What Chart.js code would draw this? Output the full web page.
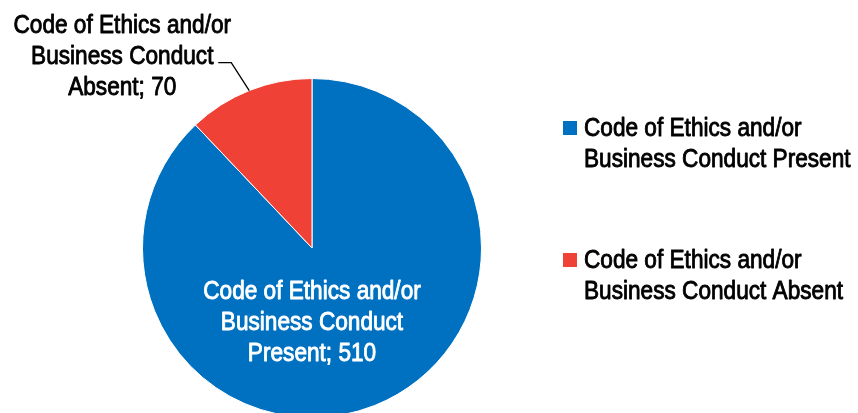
<!DOCTYPE html>
<html>
<head>
<meta charset="utf-8">
<script src="https://cdn.jsdelivr.net/npm/chart.js@4.4.1/dist/chart.umd.min.js"></script>
<style>
html,body{margin:0;padding:0;background:#fff;overflow:hidden;width:858px;height:413px;}
#wrap{position:absolute;left:0;top:0;width:858px;height:500px;}
</style>
</head>
<body>
<div id="wrap"><canvas id="c" width="858" height="500"></canvas></div>
<script>
// ---- data ----
const categories = ['Code of Ethics and/or Business Conduct Present', 'Code of Ethics and/or Business Conduct Absent'];
const values = [510, 70];
const colors = ['#0070C0', '#EF4136'];
// line breaks for legend entries and for data labels
const legendLines = [
  ['Code of Ethics and/or', 'Business Conduct Present'],
  ['Code of Ethics and/or', 'Business Conduct Absent']
];
const labelLines = [
  ['Code of Ethics and/or', 'Business Conduct', 'Present'],
  ['Code of Ethics and/or', 'Business Conduct', 'Absent']
];

const FONT = "'Liberation Sans', Arial, sans-serif";
const FSIZE = 26;
const SX = 0.87;      // horizontal condensing to imitate a narrow face
const LINE_H = 31;

function txt(ctx, t, x, y, color) {
  ctx.save();
  ctx.translate(x, y);
  ctx.scale(SX, 1);
  ctx.fillStyle = color;
  ctx.strokeStyle = color;
  ctx.lineWidth = 0.9;
  ctx.lineJoin = 'round';
  ctx.fillText(t, 0, 0);
  ctx.strokeText(t, 0, 0);
  ctx.restore();
}

const labelPlugin = {
  id: 'labels',
  afterDraw(chart) {
    const ctx = chart.ctx;
    const meta = chart.getDatasetMeta(0);
    ctx.save();
    ctx.font = FSIZE + 'px ' + FONT;
    ctx.textAlign = 'center';
    ctx.textBaseline = 'alphabetic';
    meta.data.forEach((arc, i) => {
      const p = arc.getProps(['x', 'y', 'startAngle', 'endAngle', 'outerRadius'], true);
      const lines = labelLines[i].slice();
      lines[lines.length - 1] = lines[lines.length - 1] + '; ' + values[i];
      if (i === 0) {
        const cx = p.x;
        const y0 = p.y + 0.3 * p.outerRadius;
        lines.forEach((t, k) => txt(ctx, t, cx, y0 + k * LINE_H, '#ffffff'));
      } else {
        const mid = (p.startAngle + p.endAngle) / 2;
        const ex = p.x + Math.cos(mid) * p.outerRadius;
        const ey = p.y + Math.sin(mid) * p.outerRadius;
        // leader line
        ctx.strokeStyle = '#000';
        ctx.lineWidth = 1.3;
        ctx.beginPath();
        ctx.moveTo(ex, ey);
        ctx.lineTo(ex - 18, ey - 28);
        ctx.lineTo(ex - 31, ey - 28);
        ctx.stroke();
        const cx = ex - 127;
        const y0 = ey - 58;
        lines.forEach((t, k) => txt(ctx, t, cx, y0 + k * LINE_H, '#000000'));
      }
    });
    // legend
    const lx = 563, ly = 121, gap = 132;
    ctx.textAlign = 'left';
    categories.forEach((c, i) => {
      const top = ly + i * gap;
      ctx.fillStyle = colors[i];
      ctx.fillRect(lx, top, 14, 14);
      legendLines[i].forEach((t, k) => txt(ctx, t, lx + 21, top + 15 + k * LINE_H, '#000000'));
    });
    ctx.restore();
  }
};

new Chart(document.getElementById('c'), {
  type: 'pie',
  data: {
    labels: categories,
    datasets: [{
      data: values,
      backgroundColor: colors,
      borderColor: '#ffffff',
      borderWidth: 1
    }]
  },
  options: {
    responsive: false,
    animation: false,
    layout: { padding: { left: 142, right: 376, top: 78, bottom: 82 } },
    plugins: { legend: { display: false }, tooltip: { enabled: false } }
  },
  plugins: [labelPlugin]
});
</script>
</body>
</html>
